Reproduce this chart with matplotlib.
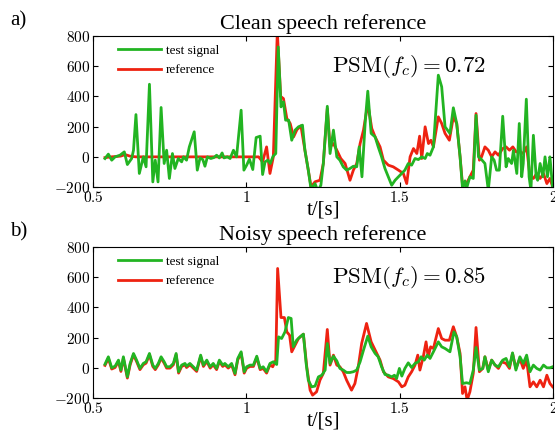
import matplotlib
matplotlib.use('Agg')
import matplotlib.pyplot as plt
from matplotlib.ticker import FuncFormatter

plt.rcParams['mathtext.fontset'] = 'cm'
plt.rcParams['font.family'] = ['Liberation Serif', 'DejaVu Serif']

# (time [s], value)
clean_test = [(0.539, -11), (0.550, 18), (0.561, -22), (0.572, 0), (0.588, 11), (0.602, 33), (0.612, -51),
              (0.626, -11), (0.632, 44), (0.640, 280), (0.651, -110), (0.664, 0), (0.673, -66), (0.684, 481),
              (0.695, -166), (0.703, -22), (0.712, -166), (0.722, 327), (0.732, -44), (0.740, 44), (0.749, -143),
              (0.759, 22), (0.767, -77), (0.778, -11), (0.789, -33), (0.795, 0), (0.805, -22), (0.814, 66),
              (0.830, 166), (0.840, -88), (0.849, -7), (0.858, -18), (0.865, -62), (0.873, 0), (0.884, -11),
              (0.895, -4), (0.903, 11), (0.912, -7), (0.921, 26), (0.927, -7), (0.938, 0), (0.947, -11),
              (0.958, 44), (0.968, 0), (0.983, 309), (0.992, -88), (1.001, -55), (1.010, -15), (1.021, -84),
              (1.032, 128), (1.045, 137), (1.053, -117), (1.061, -33), (1.070, -22), (1.078, -44), (1.087, 4),
              (1.096, 22), (1.104, 728), (1.113, 331), (1.121, 364), (1.128, 243), (1.138, 243), (1.148, 110),
              (1.159, 177), (1.170, 199), (1.183, 210), (1.191, 44), (1.202, -88), (1.211, -215), (1.224, -177),
              (1.233, -225), (1.243, -188), (1.251, -44), (1.264, 335), (1.273, 22), (1.284, 177), (1.295, 0),
              (1.305, -22), (1.316, -66), (1.327, -88), (1.338, -77), (1.349, -62), (1.360, -66), (1.368, 66),
              (1.377, -132), (1.388, 243), (1.396, 435), (1.407, 155), (1.420, 132), (1.430, 66), (1.441, 0),
              (1.452, -77), (1.463, -132), (1.474, -188), (1.485, -155), (1.496, -132), (1.507, -110),
              (1.517, -88), (1.528, -44), (1.539, -55), (1.550, -11), (1.561, -18), (1.572, 0), (1.583, -11),
              (1.590, 22), (1.599, 11), (1.610, 66), (1.626, 541), (1.637, 464), (1.648, 199), (1.664, 155),
              (1.675, 325), (1.686, 221), (1.697, 0), (1.705, -210), (1.713, -159), (1.718, -210), (1.729, -132),
              (1.740, -143), (1.749, 276), (1.757, 0), (1.767, -18), (1.778, -44), (1.789, -220), (1.800, 0),
              (1.808, -22), (1.816, -88), (1.825, -88), (1.836, 269), (1.847, -66), (1.854, -11), (1.865, -44),
              (1.871, 44), (1.882, -110), (1.890, 221), (1.898, -132), (1.903, -44), (1.913, 382), (1.922, -132),
              (1.928, -220), (1.936, 143), (1.945, -132), (1.950, -155), (1.958, -44), (1.967, -132),
              (1.974, 0), (1.982, -132), (1.990, 0), (1.999, -210)]

clean_ref = [(0.539, -5), (0.560, 0), (0.590, 5), (0.605, 15), (0.620, 5), (0.640, 0), (0.700, 0), (0.800, 0),
             (0.900, 0), (1.000, 0), (1.040, 0), (1.053, -33), (1.066, 66), (1.077, -110), (1.088, 0),
             (1.101, 830), (1.112, 400), (1.121, 386), (1.132, 254), (1.143, 221), (1.154, 132), (1.165, 180),
             (1.178, 205), (1.191, 44), (1.202, -88), (1.211, -199), (1.224, -165), (1.240, -155), (1.251, -44),
             (1.264, 320), (1.273, 66), (1.284, 88), (1.295, 44), (1.308, -11), (1.322, -44), (1.338, -155),
             (1.349, -88), (1.360, -44), (1.371, 88), (1.382, 177), (1.396, 353), (1.409, 188), (1.420, 132),
             (1.436, 66), (1.447, -22), (1.463, -55), (1.479, -66), (1.496, -88), (1.512, -110), (1.523, -177),
             (1.534, 0), (1.545, 55), (1.556, 22), (1.565, 137), (1.572, -11), (1.583, 199), (1.594, 88),
             (1.602, 110), (1.610, 66), (1.626, 265), (1.637, 221), (1.648, 155), (1.662, 110), (1.675, 265),
             (1.686, 221), (1.697, 0), (1.705, -188), (1.718, -177), (1.729, -132), (1.740, -88), (1.749, 287),
             (1.760, -22), (1.767, 0), (1.778, 66), (1.789, 44), (1.800, 0), (1.811, 33), (1.822, 11),
             (1.836, 55), (1.847, 66), (1.858, 44), (1.869, 66), (1.880, 33), (1.893, 33), (1.903, 22),
             (1.914, 66), (1.925, -132), (1.936, -143), (1.947, -110), (1.958, -143), (1.969, -110),
             (1.980, -177), (1.990, -143), (1.999, -199)]

noisy_test = [(0.539, 24), (0.550, 73), (0.561, 0), (0.572, 11), (0.583, 51), (0.591, -15), (0.599, 73),
              (0.612, -60), (0.621, 29), (0.632, 95), (0.642, 51), (0.653, -4), (0.664, 29), (0.673, 40),
              (0.684, 95), (0.695, 18), (0.703, -4), (0.713, 29), (0.722, 73), (0.732, 40), (0.740, 7),
              (0.751, 7), (0.762, 29), (0.771, 95), (0.779, -26), (0.789, 18), (0.800, 29), (0.805, 11),
              (0.816, 29), (0.827, 7), (0.838, -15), (0.851, 84), (0.860, 18), (0.871, 51), (0.882, 7),
              (0.892, 29), (0.903, -4), (0.912, 51), (0.923, 18), (0.930, 29), (0.941, 7), (0.952, 29),
              (0.963, -37), (0.972, 62), (0.983, 106), (0.993, -26), (1.001, 7), (1.012, 18), (1.023, 18),
              (1.034, 77), (1.045, -4), (1.055, 7), (1.066, -26), (1.077, 29), (1.088, 40), (1.099, 22),
              (1.105, 205), (1.115, 194), (1.126, 238), (1.137, 333), (1.146, 327), (1.153, 139), (1.164, 183),
              (1.175, 205), (1.186, 223), (1.195, 29), (1.202, -82), (1.213, -126), (1.224, -121), (1.235, -60),
              (1.246, -49), (1.257, -15), (1.264, 161), (1.273, 29), (1.284, 77), (1.295, 46), (1.305, -4),
              (1.316, -15), (1.327, -31), (1.338, -31), (1.349, -26), (1.360, -15), (1.371, 40), (1.382, 117),
              (1.396, 210), (1.407, 139), (1.420, 95), (1.430, 73), (1.441, 7), (1.452, -44), (1.463, -49),
              (1.474, -60), (1.483, -49), (1.490, -71), (1.499, -4), (1.507, -55), (1.517, -4), (1.528, 33),
              (1.539, 2), (1.550, 29), (1.561, 40), (1.570, 73), (1.580, 51), (1.590, 84), (1.599, 62),
              (1.610, 106), (1.626, 172), (1.637, 139), (1.648, 128), (1.664, 106), (1.677, 238), (1.686, 205),
              (1.697, 73), (1.705, -104), (1.718, -99), (1.729, -104), (1.740, -15), (1.749, 135), (1.760, -15),
              (1.771, -4), (1.778, 73), (1.789, -26), (1.800, 51), (1.811, 18), (1.822, 7), (1.836, 51),
              (1.847, 62), (1.858, 7), (1.868, 99), (1.879, -15), (1.892, 73), (1.903, 29), (1.914, 84),
              (1.925, -26), (1.936, 18), (1.947, -4), (1.958, -15), (1.969, 18), (1.980, 0), (1.990, 0),
              (1.999, 7)]

noisy_ref = [(0.539, 16), (0.550, 62), (0.561, -8), (0.572, 2), (0.583, 42), (0.591, -24), (0.599, 64),
             (0.612, -68), (0.621, 20), (0.632, 86), (0.642, 42), (0.653, -12), (0.664, 20), (0.673, 31),
             (0.684, 86), (0.695, 9), (0.703, -12), (0.713, 20), (0.722, 64), (0.732, 31), (0.740, -2),
             (0.751, -2), (0.762, 20), (0.771, 86), (0.779, -35), (0.789, 9), (0.800, 20), (0.805, 2),
             (0.816, 20), (0.827, -2), (0.838, -24), (0.851, 75), (0.860, 9), (0.871, 42), (0.882, -2),
             (0.892, 20), (0.903, -12), (0.912, 42), (0.923, 9), (0.930, 20), (0.941, -2), (0.952, 20),
             (0.963, -46), (0.972, 53), (0.983, 97), (0.993, -35), (1.001, -2), (1.012, 9), (1.023, 9),
             (1.034, 68), (1.045, -12), (1.055, -4), (1.066, -35), (1.077, 20), (1.086, 7), (1.096, 51),
             (1.102, 658), (1.113, 333), (1.124, 333), (1.132, 238), (1.141, 216), (1.148, 106), (1.159, 150),
             (1.170, 194), (1.186, 223), (1.197, 7), (1.208, -148), (1.216, -181), (1.229, -159), (1.240, -82),
             (1.251, -37), (1.264, 254), (1.273, 18), (1.284, 84), (1.295, 18), (1.305, 7), (1.316, -26),
             (1.327, -82), (1.343, -148), (1.354, -104), (1.365, 7), (1.376, 161), (1.392, 294), (1.407, 172),
             (1.420, 117), (1.436, 51), (1.447, -26), (1.463, -60), (1.479, -71), (1.496, -93), (1.507, -126),
             (1.517, -115), (1.528, -60), (1.539, -26), (1.550, 18), (1.559, 84), (1.566, -15), (1.577, 73),
             (1.586, 172), (1.593, 73), (1.601, 139), (1.610, 128), (1.626, 260), (1.637, 194), (1.648, 183),
             (1.662, 183), (1.675, 272), (1.686, 205), (1.697, 95), (1.705, -170), (1.713, -126), (1.720, -214),
             (1.729, -159), (1.740, -37), (1.749, 267), (1.760, -26), (1.771, -4), (1.778, 73), (1.789, -15),
             (1.800, 51), (1.811, 18), (1.822, -4), (1.833, 40), (1.847, 29), (1.858, -4), (1.868, 95),
             (1.879, -4), (1.892, 62), (1.903, -4), (1.914, 51), (1.925, -126), (1.936, -93), (1.947, -126),
             (1.958, -82), (1.969, -126), (1.980, -49), (1.990, -104), (1.999, -126)]

panels = [('a)', 'Clean speech reference', '0.72', clean_test, clean_ref),
          ('b)', 'Noisy speech reference', '0.85', noisy_test, noisy_ref)]
x_ticks = [0.5, 1, 1.5, 2]
y_ticks = [-200, 0, 200, 400, 600, 800]

green = '#22b422'
red = '#ee2211'

fig = plt.figure(figsize=(5.55, 4.33), dpi=100)
axes_pos = [[0.1676, 0.568, 0.8288, 0.3487], [0.1676, 0.0808, 0.8288, 0.3487]]

for pos, (tag, title, psm, test, ref) in zip(axes_pos, panels):
    ax = fig.add_axes(pos)
    ax.plot([p[0] for p in ref], [p[1] for p in ref], color=red, lw=2.0, label='reference')
    ax.plot([p[0] for p in test], [p[1] for p in test], color=green, lw=2.0, label='test signal')
    ax.set_xlim(0.5, 2)
    ax.set_ylim(-200, 800)
    ax.set_xticks(x_ticks)
    ax.set_yticks(y_ticks)
    ax.xaxis.set_major_formatter(FuncFormatter(lambda v, p: '$%g$' % v))
    ax.yaxis.set_major_formatter(FuncFormatter(lambda v, p: '$%d$' % v))
    ax.tick_params(direction='in', top=True, right=True, length=3.5, labelsize=11, pad=2)
    ax.set_title(title, fontsize=16, pad=5)
    ax.set_xlabel('t/[s]', fontsize=15, labelpad=-3)
    ax.text(0.52, 0.76, r'$\mathrm{PSM}(f_c) = %s$' % psm, transform=ax.transAxes, fontsize=16.5)
    h, l = ax.get_legend_handles_labels()
    ax.legend(h[::-1], l[::-1], loc='upper left', bbox_to_anchor=(0.035, 1.005), frameon=False, fontsize=9.5,
              handlelength=3.2, borderaxespad=0.3, labelspacing=0.55, handletextpad=0.4)
    ax.text(-0.18, 1.07, tag, transform=ax.transAxes, fontsize=15)

fig.savefig('out.png', dpi=100)
